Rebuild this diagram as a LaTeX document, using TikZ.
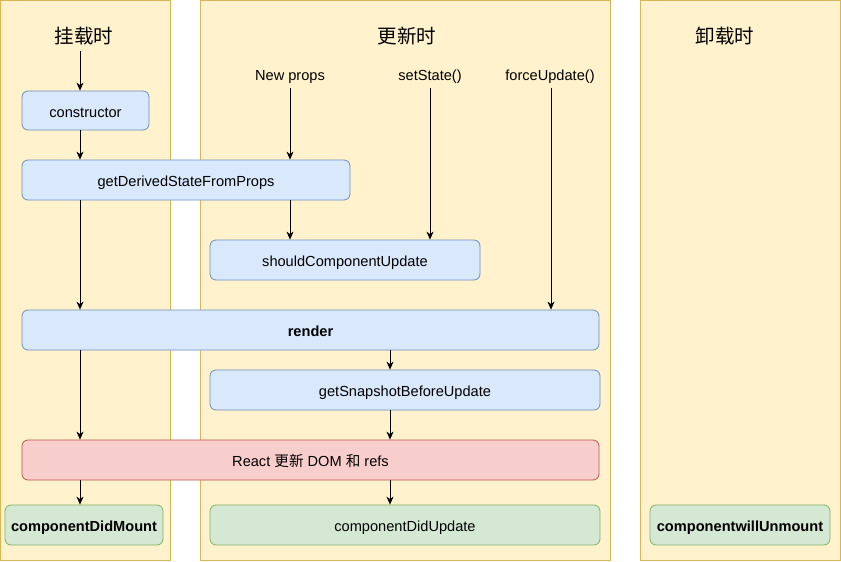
\documentclass[tikz,border=0pt]{standalone}
\usepackage{fontspec}
\setmainfont{Liberation Sans}
\newfontfamily\cjk{Noto Sans CJK SC}
\usetikzlibrary{arrows.meta}
\definecolor{panelfill}{HTML}{FFF2CC}
\definecolor{paneldraw}{HTML}{D6B656}
\definecolor{bluefill}{HTML}{DAE8FC}
\definecolor{bluedraw}{HTML}{6C8EBF}
\definecolor{redfill}{HTML}{F8CECC}
\definecolor{reddraw}{HTML}{B85450}
\definecolor{greenfill}{HTML}{D5E8D4}
\definecolor{greendraw}{HTML}{82B366}
\tikzset{
  panel/.style={draw=paneldraw, fill=panelfill, line width=0.8pt},
  box/.style={rounded corners=6pt, line width=0.8pt, inner sep=0pt, text height=13.5pt, text depth=0pt, font=\fontsize{14.6}{17}\selectfont},
  bluebox/.style={box, draw=bluedraw, fill=bluefill},
  redbox/.style={box, draw=reddraw, fill=redfill},
  greenbox/.style={box, draw=greendraw, fill=greenfill},
  boldtext/.style={font=\fontsize{14.6}{17}\selectfont\bfseries},
  title/.style={font=\cjk\fontsize{19.5}{22}\selectfont, inner sep=0pt},
  lbl/.style={font=\fontsize{14.6}{17}\selectfont, inner sep=0pt, text height=13.5pt, text depth=0pt},
  arr/.style={-{Stealth[length=8pt,width=7pt,inset=2.5pt]}, line width=0.8pt},
}
\begin{document}
\begin{tikzpicture}[x=1pt,y=-1pt]
\useasboundingbox (0,0) rectangle (841,562);
% panels
\draw[panel] (0.5,0.5) rectangle (170,560);
\draw[panel] (200,0.5) rectangle (610,560);
\draw[panel] (640,0.5) rectangle (840,560);
% titles
\node[title] (t1) at (84,36) {挂载时};
\node[title] (t2) at (407,36) {更新时};
\node[title] (t3) at (725,36) {卸载时};
% labels
\node[lbl] (np) at (290,74) {New props};
\node[lbl] (ss) at (430,74) {setState()};
\node[lbl] (fu) at (550,74) {forceUpdate()};
% boxes
\node[bluebox, minimum width=127pt, minimum height=39pt] (ctor) at (85.5,110.5) {constructor};
\node[bluebox, minimum width=328pt, minimum height=40pt] (gdsfp) at (186,180) {getDerivedStateFromProps};
\node[bluebox, minimum width=270pt, minimum height=40pt] (scu) at (345,260) {shouldComponentUpdate};
\node[bluebox, boldtext, minimum width=577pt, minimum height=40pt] (render) at (310.5,330) {render};
\node[bluebox, minimum width=390pt, minimum height=40pt] (gsbu) at (405,390) {getSnapshotBeforeUpdate};
\node[redbox, minimum width=577pt, minimum height=40pt] (dom) at (310.5,460) {React {\cjk 更新} DOM {\cjk 和} refs};
\node[greenbox, boldtext, minimum width=158pt, minimum height=40pt] (cdm) at (84,525) {componentDidMount};
\node[greenbox, minimum width=390pt, minimum height=40pt] (cdu) at (405,525) {componentDidUpdate};
\node[greenbox, boldtext, minimum width=180pt, minimum height=40pt] (cwu) at (740,525) {componentwillUnmount};
% connectors
\draw[arr] (t1.south -| 80,0) ++(0,6) -- (ctor.north -| 80,0);
\draw[arr] (ctor.south -| 80,0) -- (gdsfp.north -| 80,0);
\draw[arr] (np.south -| 290,0) ++(0,7) -- (gdsfp.north -| 290,0);
\draw[arr] (ss.south -| 430,0) ++(0,7) -- (scu.north -| 430,0);
\draw[arr] (fu.south -| 551,0) ++(0,7) -- (render.north -| 551,0);
\draw[arr] (gdsfp.south -| 290,0) -- (scu.north -| 290,0);
\draw[arr] (gdsfp.south -| 80,0) -- (render.north -| 80,0);
\draw[arr] (render.south -| 80,0) -- (dom.north -| 80,0);
\draw[arr] (render.south -| 390,0) -- (gsbu.north -| 390,0);
\draw[arr] (gsbu.south -| 390,0) -- (dom.north -| 390,0);
\draw[arr] (dom.south -| 80,0) -- (cdm.north -| 80,0);
\draw[arr] (dom.south -| 390,0) -- (cdu.north -| 390,0);
\end{tikzpicture}
\end{document}
